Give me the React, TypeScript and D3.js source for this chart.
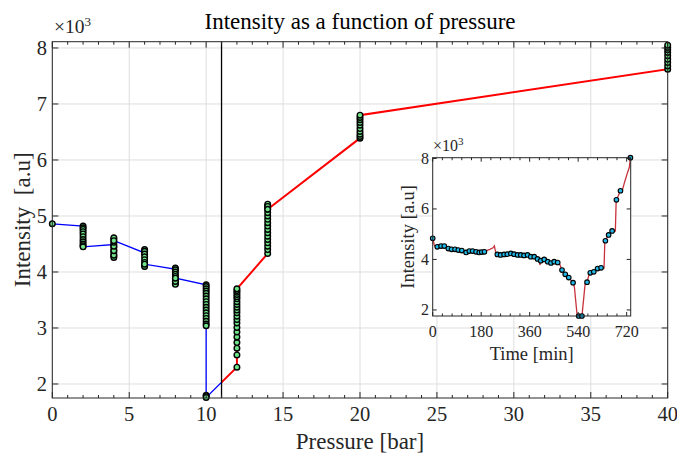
import React from 'react';
import * as d3 from 'd3';

// ---------- main chart data ----------
const pressureSteps = [0, 2, 4, 6, 8, 10, 12, 14, 20, 40];
const intensityByStep: number[][] = [
  [4860],
  [4820, 4790, 4760, 4720, 4680, 4630, 4580, 4540, 4500, 4470, 4450],
  [4490, 4440, 4390, 4340, 4290, 4260, 4300, 4380, 4460, 4530, 4590, 4610, 4560],
  [4340, 4380, 4400, 4370, 4320, 4270, 4220, 4170, 4120, 4100, 4140],
  [4050, 4070, 4040, 4000, 3960, 3920, 3880, 3840, 3800, 3780, 3830, 3890],
  [3770, 3740, 3700, 3660, 3620, 3570, 3520, 3470, 3420, 3370, 3320, 3270, 3220, 3170, 3120, 3070, 3040, 1800, 1780, 1760],
  [2300, 2520, 2640, 2740, 2840, 2930, 3010, 3090, 3150, 3210, 3270, 3320, 3370, 3420, 3470, 3520, 3560, 3600, 3640, 3670, 3700],
  [4330, 4400, 4460, 4520, 4580, 4640, 4700, 4760, 4820, 4880, 4940, 5000, 5060, 5120, 5180, 5210, 5170, 5120],
  [6390, 6420, 6460, 6510, 6560, 6620, 6670, 6720, 6760, 6800],
  [7620, 7680, 7740, 7800, 7860, 7920, 7970, 8010, 8050],
];
const switchPressure = 11;
const xTicks = [0, 5, 10, 15, 20, 25, 30, 35, 40];
const xMinorTicks = d3.range(0, 41, 1);
const yTicks = [2000, 3000, 4000, 5000, 6000, 7000, 8000];
const yTickLabels = ['2', '3', '4', '5', '6', '7', '8'];

// ---------- inset data ----------
const insetMarkerTimes = [0, 17, 31, 43, 58, 70, 83, 95, 108, 124, 136, 148, 161, 173, 182, 192,
  240, 252, 265, 277, 290, 302, 315, 327, 339, 352, 364, 377, 389, 401, 414, 427, 439, 451, 464,
  480, 492, 505, 521, 542, 554, 573, 585, 598, 612, 625, 641, 653, 666, 682, 697, 734];
const insetMarkerValues = [4840, 4500, 4530, 4530, 4430, 4400, 4400, 4370, 4350, 4280, 4330, 4330, 4300, 4280, 4290, 4300,
  4200, 4180, 4200, 4210, 4240, 4210, 4180, 4180, 4160, 4180, 4110, 4110, 4020, 3950, 4000, 3910, 3860, 3910, 3880,
  3580, 3410, 3280, 3080, 1760, 1760, 3100, 3470, 3510, 3640, 3670, 4740, 4970, 5130, 6360, 6720, 8030];
const insetLineTimes = [0, 6, 12, 18, 31, 43, 50, 58, 70, 83, 90, 95, 100, 104, 108, 116, 124, 136, 148, 161, 173, 182, 192,
  200, 212, 224, 229, 233, 238, 252, 265, 277, 290, 302, 315, 327, 339, 352, 364, 377, 386, 389, 395, 398, 402, 414, 427, 439,
  451, 464, 470, 480, 492, 505, 521, 526, 536, 542, 554, 560, 566, 573, 579, 585, 598, 612, 625, 636, 639, 641, 646, 653, 660,
  666, 678, 681, 683, 690, 697, 703, 712, 722, 730, 734];
const insetLineValues = [4850, 4560, 4480, 4500, 4530, 4530, 4470, 4430, 4400, 4400, 4360, 4370, 4300, 4350, 4350, 4330, 4280, 4330, 4330, 4300, 4280, 4290, 4300,
  4350, 4400, 4460, 4540, 4320, 4200, 4180, 4200, 4210, 4240, 4210, 4180, 4180, 4160, 4180, 4110, 4110, 4050, 4020, 3990, 3780, 3950, 4000, 3910, 3860,
  3910, 3880, 3850, 3580, 3410, 3280, 3080, 2900, 1800, 1760, 1760, 2400, 3050, 3100, 3350, 3470, 3510, 3640, 3670, 3660, 4700, 4740, 4850, 4970, 5050,
  5130, 5120, 6300, 6360, 6550, 6720, 6700, 7050, 7400, 7650, 8030];
const insetXTicks = [0, 180, 360, 540, 720];
const insetXMinorTicks = d3.range(0, 735, 36);
const insetYTicks = [2000, 4000, 6000, 8000];
const insetYTickLabels = ['2', '4', '6', '8'];

const W = 677;
const H = 458;
const FONT = 'Liberation Serif, DejaVu Serif, serif';
const AX = '#262626';
const TS: React.CSSProperties = { fontFamily: FONT };

export default function App() {
  // main scales
  const mL = 52.3, mR = 667.7, mT = 41.7, mB = 398;
  const x = d3.scaleLinear().domain([0, 40]).range([mL, mR]);
  const y = d3.scaleLinear().domain([1750, 8112]).range([mB, mT]);

  const pts: { p: number; v: number }[] = [];
  pressureSteps.forEach((p, i) => intensityByStep[i].forEach((v) => pts.push({ p, v })));
  const line = d3.line<{ p: number; v: number }>().x((d) => x(d.p)).y((d) => y(d.v));
  const pathD = line(pts) || '';

  // inset scales
  const iL = 432.7, iR = 630.7, iT = 157.7, iB = 316;
  const ix = d3.scaleLinear().domain([0, 735]).range([iL, iR]);
  const iy = d3.scaleLinear().domain([1760, 8030]).range([iB, iT]);
  const insetLine = d3.line<number>().x((t) => ix(t)).y((_, i) => iy(insetLineValues[i]));
  const insetD = insetLine(insetLineTimes) || '';

  const xs = x(switchPressure);

  return (
    <svg width={W} height={H} style={{ position: 'absolute', left: 0, top: 0, background: '#fff', fontFamily: FONT }}>
      <defs>
        <clipPath id="clipBlue"><rect x={mL} y={mT - 5} width={xs - mL} height={mB - mT + 10} /></clipPath>
        <clipPath id="clipRed"><rect x={xs} y={mT - 5} width={mR - xs + 5} height={mB - mT + 10} /></clipPath>
      </defs>
      <rect x={0} y={0} width={W} height={H} fill="#fff" />
      {/* grid */}
      {xTicks.map((t) => (
        <line key={'gx' + t} x1={x(t)} x2={x(t)} y1={mT} y2={mB} stroke="#dedede" strokeWidth={1} />
      ))}
      {yTicks.map((t) => (
        <line key={'gy' + t} x1={mL} x2={mR} y1={y(t)} y2={y(t)} stroke="#dedede" strokeWidth={1} />
      ))}
      {/* lines */}
      <path d={pathD} fill="none" stroke="#0000ff" strokeWidth={1.3} clipPath="url(#clipBlue)" />
      <path d={pathD} fill="none" stroke="#ff0000" strokeWidth={2} clipPath="url(#clipRed)" />
      <line x1={xs} x2={xs} y1={mT} y2={mB} stroke="#000" strokeWidth={1.3} />
      {pts.map((d, i) => (
        <circle key={'m' + i} cx={x(d.p)} cy={y(d.v)} r={2.8} fill="#6ee589" stroke="#000" strokeWidth={1.4} />
      ))}
      {/* axes box */}
      <rect x={mL} y={mT} width={mR - mL} height={mB - mT} fill="none" stroke={AX} strokeWidth={1} />
      {xMinorTicks.map((t) => {
        const major = t % 5 === 0;
        const len = major ? 6 : 3;
        return (
          <g key={'xt' + t}>
            <line x1={x(t)} x2={x(t)} y1={mB} y2={mB - len} stroke={AX} />
            <line x1={x(t)} x2={x(t)} y1={mT} y2={mT + len} stroke={AX} />
          </g>
        );
      })}
      {yTicks.map((t) => (
        <g key={'yt' + t}>
          <line x1={mL} x2={mL + 6} y1={y(t)} y2={y(t)} stroke={AX} />
          <line x1={mR} x2={mR - 6} y1={y(t)} y2={y(t)} stroke={AX} />
        </g>
      ))}
      {xTicks.map((t) => (
        <text key={'xl' + t} style={TS} x={x(t)} y={421} textAnchor="middle" fontSize={20.5} fill={AX}>{t}</text>
      ))}
      {yTicks.map((t, i) => (
        <text key={'yl' + t} style={TS} x={47} y={y(t) + 7} textAnchor="end" fontSize={20.5} fill={AX}>{yTickLabels[i]}</text>
      ))}
      <text style={TS} x={54} y={33} fontSize={19.5} fill={AX}>×10<tspan dy={-7.5} fontSize={13}>3</tspan></text>
      <text style={TS} x={(mL + mR) / 2} y={29} textAnchor="middle" fontSize={23} fill="#000">Intensity as a function of pressure</text>
      <text style={TS} x={(mL + mR) / 2} y={449} textAnchor="middle" fontSize={23} fill={AX}>Pressure [bar]</text>
      <text transform={`translate(30,${(mT + mB) / 2}) rotate(-90)`} textAnchor="middle" fontSize={23} fill={AX} style={{ whiteSpace: 'pre', fontFamily: FONT }}>{'Intensity  [a.u]'}</text>

      {/* inset */}
      <rect x={iL} y={iT} width={iR - iL} height={iB - iT} fill="#fff" />
      <path d={insetD} fill="none" stroke="#c8323c" strokeWidth={1.3} />
      {insetMarkerTimes.map((t, i) => (
        <circle key={'im' + i} cx={ix(t)} cy={iy(insetMarkerValues[i])} r={2.3} fill="#20b8e8" stroke="#000" strokeWidth={1.1} />
      ))}
      <rect x={iL} y={iT} width={iR - iL} height={iB - iT} fill="none" stroke={AX} strokeWidth={1} />
      {insetXMinorTicks.map((t) => {
        const major = t % 180 === 0;
        const len = major ? 4 : 2.5;
        return (
          <g key={'ixt' + t}>
            <line x1={ix(t)} x2={ix(t)} y1={iB} y2={iB - len} stroke={AX} />
            <line x1={ix(t)} x2={ix(t)} y1={iT} y2={iT + len} stroke={AX} />
          </g>
        );
      })}
      {insetYTicks.map((t) => (
        <g key={'iyt' + t}>
          <line x1={iL} x2={iL + 4} y1={iy(t)} y2={iy(t)} stroke={AX} />
          <line x1={iR} x2={iR - 4} y1={iy(t)} y2={iy(t)} stroke={AX} />
        </g>
      ))}
      {insetXTicks.map((t) => (
        <text key={'ixl' + t} style={TS} x={ix(t)} y={337} textAnchor="middle" fontSize={16} fill={AX}>{t}</text>
      ))}
      {insetYTicks.map((t, i) => (
        <text key={'iyl' + t} style={TS} x={429} y={iy(t) + 5.5} textAnchor="end" fontSize={16} fill={AX}>{insetYTickLabels[i]}</text>
      ))}
      <text style={TS} x={433} y={151} fontSize={16} fill={AX}>×10<tspan dy={-6} fontSize={11}>3</tspan></text>
      <text style={TS} x={(iL + iR) / 2} y={360} textAnchor="middle" fontSize={18.5} fill={AX}>Time [min]</text>
      <text style={TS} transform={`translate(414,${(iT + iB) / 2}) rotate(-90)`} textAnchor="middle" fontSize={18.5} fill={AX}>Intensity [a.u]</text>
    </svg>
  );
}
